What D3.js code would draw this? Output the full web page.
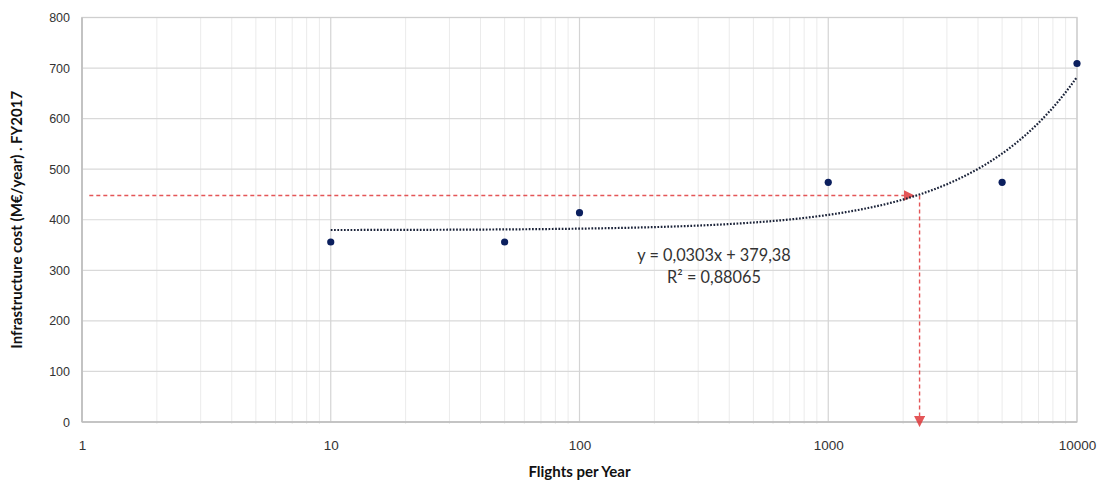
<!DOCTYPE html>
<html>
<head>
<meta charset="utf-8">
<script src="https://cdn.jsdelivr.net/npm/d3@7"></script>
<style>
  html, body { margin: 0; padding: 0; background: #fff; }
  svg { display: block; }
</style>
</head>
<body>
<svg id="chart" width="1104" height="485"></svg>
<script>
// Observed infrastructure cost against flight volume
const flights = [10, 50, 100, 1000, 5000, 10000];
const costs = [356, 356, 414, 474, 474, 709];

// Linear trend fitted to the points (drawn on a log x axis)
const trendSlope = 0.0303;
const trendIntercept = 379.38;
const trendRange = [10, 10000];
const trendLabel = ["y = 0,0303x + 379,38", "R\u00B2 = 0,88065"];

// Reading marker: cost level and the flight count where the trend reaches it
const readCost = 448;
const readFlights = (readCost - trendIntercept) / trendSlope;
const readStart = 1.07;

const xTicks = [1, 10, 100, 1000, 10000];
const yTicks = [0, 100, 200, 300, 400, 500, 600, 700, 800];

const svg = d3.select("#chart");
const margin = { left: 82, right: 27, top: 17.5, bottom: 63 };
const W = 1104, H = 485;

const x = d3.scaleLog().domain([1, 10000]).range([margin.left, W - margin.right]);
const y = d3.scaleLinear().domain([0, 800]).range([H - margin.bottom, margin.top]);

const g = svg.append("g");

// Minor vertical gridlines (2..9 within each decade)
const minor = [];
for (let d = 1; d < 10000; d *= 10) for (let k = 2; k <= 9; k++) minor.push(d * k);
g.selectAll(".minor").data(minor).enter().append("line")
  .attr("x1", d => x(d)).attr("x2", d => x(d))
  .attr("y1", y(800)).attr("y2", y(0) + 2)
  .attr("stroke", "#ebebeb").attr("stroke-width", 1);

// Horizontal gridlines
g.selectAll(".hgrid").data(yTicks).enter().append("line")
  .attr("x1", x(1)).attr("x2", x(10000))
  .attr("y1", d => y(d)).attr("y2", d => y(d))
  .attr("stroke", "#d9d9d9").attr("stroke-width", 1.2);

// Major vertical gridlines at each decade
g.selectAll(".major").data(xTicks).enter().append("line")
  .attr("x1", d => x(d)).attr("x2", d => x(d))
  .attr("y1", y(800)).attr("y2", y(0))
  .attr("stroke", "#d4d4d4").attr("stroke-width", 1.2);

// Plot frame
g.append("rect")
  .attr("x", x(1)).attr("y", y(800))
  .attr("width", x(10000) - x(1)).attr("height", y(0) - y(800))
  .attr("fill", "none").attr("stroke", "#cfcfcf").attr("stroke-width", 1.3);
g.append("line")
  .attr("x1", x(1)).attr("x2", x(10000)).attr("y1", y(0)).attr("y2", y(0))
  .attr("stroke", "#bdbdbd").attr("stroke-width", 1.5);
g.append("line")
  .attr("x1", x(1)).attr("x2", x(1)).attr("y1", y(800)).attr("y2", y(0))
  .attr("stroke", "#bdbdbd").attr("stroke-width", 1.5);

// Axes (labels only; lines drawn above)
const xAxis = d3.axisBottom(x).tickValues(xTicks).tickFormat(d3.format("d")).tickSize(0).tickPadding(18);
const yAxis = d3.axisLeft(y).tickValues(yTicks).tickFormat(d3.format("d")).tickSize(0).tickPadding(12);

const xa = svg.append("g").attr("transform", `translate(0,${y(0)})`).call(xAxis);
const ya = svg.append("g").attr("transform", `translate(${x(1)},0)`).call(yAxis);
[xa, ya].forEach(a => {
  a.select(".domain").remove();
  a.selectAll("text").attr("fill", "#333").attr("font-family", "Liberation Sans, Arial, sans-serif");
});
xa.selectAll("text").attr("font-size", 13.5);
ya.selectAll("text").attr("font-size", 12.5);

// Red reading marker: horizontal to the trend, then down to the axis
const red = "#e0393b";
svg.append("defs").append("marker")
  .attr("id", "arrow").attr("viewBox", "0 0 10 10")
  .attr("refX", 9).attr("refY", 5)
  .attr("markerWidth", 11).attr("markerHeight", 11)
  .attr("markerUnits", "userSpaceOnUse")
  .attr("orient", "auto")
  .append("path").attr("d", "M0,0 L10,5 L0,10 Z").attr("fill", red);

svg.append("line")
  .attr("x1", x(readStart)).attr("x2", x(readFlights) - 3)
  .attr("y1", y(readCost)).attr("y2", y(readCost))
  .attr("stroke", red).attr("stroke-width", 1.4).attr("opacity", 0.85)
  .attr("stroke-dasharray", "4,3")
  .attr("marker-end", "url(#arrow)");
svg.append("line")
  .attr("x1", x(readFlights) + 3).attr("x2", x(readFlights) + 3)
  .attr("y1", y(readCost)).attr("y2", y(0) + 4)
  .attr("stroke", red).attr("stroke-width", 1.4).attr("opacity", 0.85)
  .attr("stroke-dasharray", "4,3")
  .attr("marker-end", "url(#arrow)");

// Dotted trendline
const trendPts = d3.range(0, 301).map(i => {
  const lx = Math.log10(trendRange[0]) + i / 300 * (Math.log10(trendRange[1]) - Math.log10(trendRange[0]));
  const fx = Math.pow(10, lx);
  return [fx, trendSlope * fx + trendIntercept];
});
svg.append("path")
  .datum(trendPts)
  .attr("d", d3.line().x(d => x(d[0])).y(d => y(d[1])))
  .attr("fill", "none").attr("stroke", "#1a2238")
  .attr("stroke-width", 2.2).attr("stroke-dasharray", "1.7,1.6");

// Data points
svg.selectAll(".pt").data(flights.map((f, i) => [f, costs[i]])).enter().append("circle")
  .attr("cx", d => x(d[0])).attr("cy", d => y(d[1])).attr("r", 3.6)
  .attr("fill", "#0b1f5e");

// Trend equation
svg.selectAll(".eq").data(trendLabel).enter().append("text")
  .attr("x", 714).attr("y", (d, i) => 261 + i * 22)
  .attr("text-anchor", "middle")
  .attr("font-family", "Lato, Open Sans, sans-serif").attr("font-size", 16.3)
  .attr("fill", "#333").text(d => d);

// Axis titles
svg.append("text")
  .attr("x", (x(1) + x(10000)) / 2).attr("y", 477)
  .attr("text-anchor", "middle")
  .attr("font-family", "Lato, Open Sans, sans-serif").attr("font-weight", "bold")
  .attr("font-size", 15).attr("fill", "#111")
  .text("Flights per Year");
svg.append("text")
  .attr("transform", `translate(22,${(y(0) + y(800)) / 2}) rotate(-90)`)
  .attr("text-anchor", "middle")
  .attr("font-family", "Lato, Open Sans, sans-serif").attr("font-weight", "bold")
  .attr("font-size", 15).attr("fill", "#111")
  .text("Infrastructure cost (M\u20AC/year) . FY2017");
</script>
</body>
</html>
